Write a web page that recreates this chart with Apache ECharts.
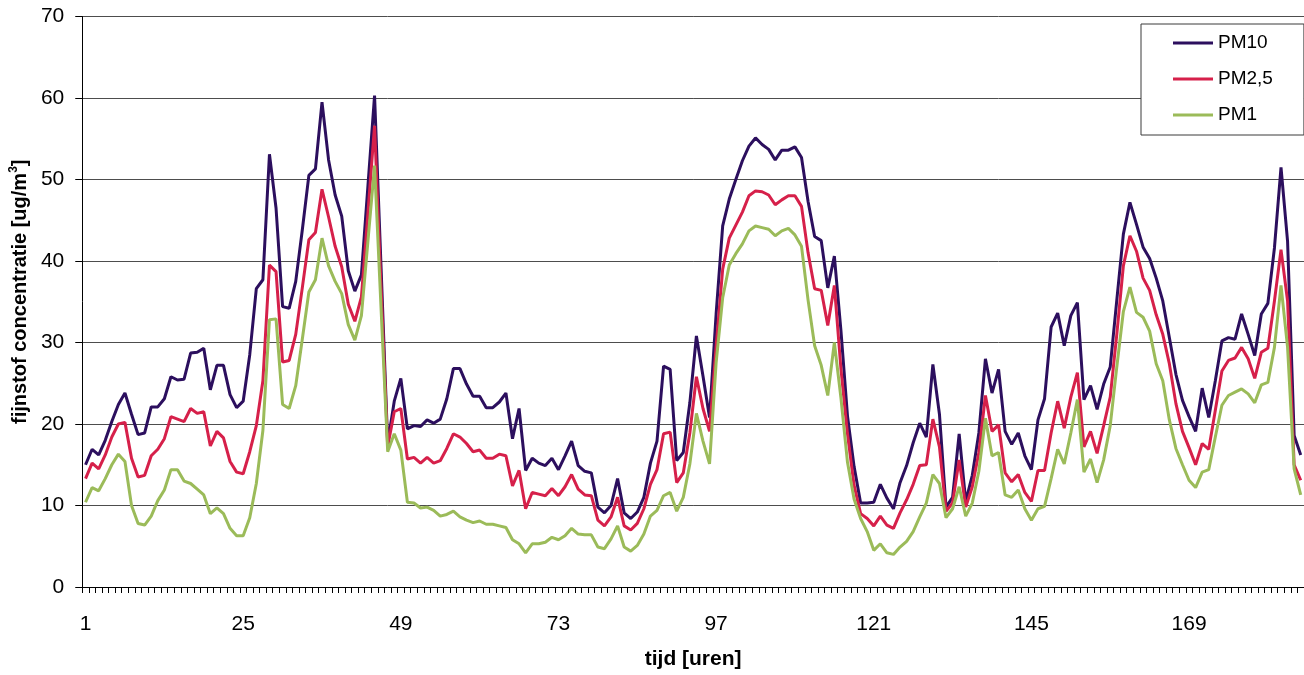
<!DOCTYPE html>
<html>
<head>
<meta charset="utf-8">
<script src="https://cdn.jsdelivr.net/npm/echarts@6/dist/echarts.min.js"></script>
<style>
  html, body { margin: 0; padding: 0; background: #fff; }
  #chart { width: 1304px; height: 675px; }
</style>
</head>
<body>
<div id="chart"></div>
<script>
// Hourly particulate matter concentrations (ug/m3), hour 1 .. 186
const hours = Array.from({ length: 186 }, (_, k) => String(k + 1));

const pm10 = [
  15.0, 16.9, 16.2, 18.0, 20.3, 22.4, 23.8, 21.2, 18.7, 18.9,
  22.1, 22.1, 23.1, 25.8, 25.4, 25.5, 28.7, 28.8, 29.3, 24.2,
  27.2, 27.2, 23.6, 22.0, 22.8, 28.5, 36.6, 37.7, 53.1, 46.5,
  34.4, 34.2, 37.5, 43.8, 50.5, 51.3, 59.5, 52.4, 48.1, 45.5,
  38.8, 36.3, 38.3, 49.3, 60.3, 39.0, 17.6, 22.8, 25.6, 19.4,
  19.8, 19.7, 20.5, 20.1, 20.6, 23.1, 26.8, 26.8, 24.9, 23.4,
  23.4, 22.0, 22.0, 22.7, 23.8, 18.2, 21.9, 14.3, 15.8, 15.2,
  14.9, 15.8, 14.4, 16.1, 17.9, 14.9, 14.2, 14.0, 9.8, 9.1,
  10.0, 13.3, 9.1, 8.4, 9.2, 11.0, 15.2, 17.9, 27.1, 26.7,
  15.5, 16.5, 22.6, 30.8, 25.9, 20.8, 33.5, 44.3, 47.6, 50.0,
  52.3, 54.1, 55.1, 54.3, 53.7, 52.4, 53.6, 53.6, 54.0, 52.7,
  47.3, 43.0, 42.5, 36.7, 40.6, 31.5, 21.0, 14.8, 10.3, 10.3,
  10.4, 12.6, 10.9, 9.6, 12.8, 14.9, 17.7, 20.1, 18.4, 27.3,
  21.2, 9.8, 11.0, 18.8, 10.5, 13.7, 18.9, 28.0, 23.8, 26.7,
  19.1, 17.5, 18.9, 16.1, 14.4, 20.5, 23.1, 31.9, 33.6, 29.6,
  33.3, 34.9, 23.0, 24.7, 21.8, 24.9, 27.0, 35.2, 43.3, 47.2,
  44.5, 41.7, 40.3, 37.9, 35.1, 30.6, 26.1, 22.9, 20.9, 19.1,
  24.4, 20.8, 25.3, 30.2, 30.6, 30.4, 33.5, 31.0, 28.4, 33.5,
  34.8, 41.6, 51.5, 42.4, 18.6, 16.2
];

const pm25 = [
  13.3, 15.2, 14.5, 16.2, 18.4, 20.0, 20.2, 15.8, 13.5, 13.7,
  16.1, 16.9, 18.2, 20.9, 20.6, 20.3, 21.9, 21.3, 21.5, 17.3,
  19.1, 18.3, 15.4, 14.1, 13.9, 16.6, 19.8, 25.3, 39.5, 38.7,
  27.6, 27.8, 31.0, 36.7, 42.6, 43.5, 48.8, 45.4, 41.8, 39.3,
  34.7, 32.6, 35.6, 46.0, 56.6, 36.5, 17.2, 21.5, 21.9, 15.7,
  15.9, 15.2, 15.9, 15.2, 15.5, 17.0, 18.8, 18.4, 17.6, 16.6,
  16.8, 15.8, 15.8, 16.3, 16.1, 12.4, 14.3, 9.6, 11.6, 11.4,
  11.2, 12.1, 11.2, 12.3, 13.8, 12.0, 11.3, 11.2, 8.2, 7.5,
  8.6, 11.0, 7.5, 7.0, 7.8, 9.6, 12.6, 14.4, 18.8, 19.0,
  12.8, 14.0, 18.9, 25.8, 21.9, 19.1, 29.5, 39.0, 42.8, 44.4,
  46.0, 48.0, 48.6, 48.5, 48.1, 46.9, 47.5, 48.0, 48.0, 46.7,
  41.0, 36.6, 36.4, 32.1, 37.0, 26.8, 18.8, 12.5, 9.0, 8.4,
  7.5, 8.7, 7.6, 7.2, 9.1, 10.7, 12.6, 14.9, 15.0, 20.6,
  17.2, 9.3, 10.3, 15.6, 9.8, 12.3, 16.5, 23.5, 19.1, 19.9,
  14.0, 12.9, 13.8, 11.6, 10.5, 14.3, 14.3, 18.9, 22.8, 19.5,
  23.3, 26.3, 17.2, 19.1, 16.4, 19.8, 23.3, 31.0, 39.4, 43.1,
  41.2, 37.9, 36.4, 33.4, 31.0, 27.4, 22.5, 19.1, 17.1, 15.0,
  17.6, 16.9, 21.7, 26.5, 27.8, 28.1, 29.4, 28.0, 25.6, 28.8,
  29.3, 35.1, 41.4, 35.1, 15.0, 13.1
];

const pm1 = [
  10.4, 12.2, 11.8, 13.3, 15.0, 16.3, 15.4, 10.0, 7.8, 7.6,
  8.7, 10.6, 11.9, 14.4, 14.4, 13.0, 12.7, 12.0, 11.3, 9.0,
  9.7, 9.0, 7.2, 6.3, 6.3, 8.5, 12.7, 19.2, 32.8, 32.9,
  22.4, 21.9, 24.7, 30.4, 36.2, 37.7, 42.8, 39.4, 37.5, 36.0,
  32.2, 30.3, 33.3, 42.5, 51.7, 34.0, 16.6, 18.8, 16.8, 10.4,
  10.3, 9.7, 9.8, 9.4, 8.7, 8.9, 9.3, 8.6, 8.2, 7.9,
  8.1, 7.7, 7.7, 7.5, 7.3, 5.8, 5.3, 4.2, 5.3, 5.3,
  5.5, 6.1, 5.8, 6.3, 7.2, 6.5, 6.4, 6.4, 4.9, 4.7,
  5.9, 7.5, 4.9, 4.4, 5.1, 6.5, 8.7, 9.4, 11.2, 11.6,
  9.3, 11.0, 15.1, 21.3, 17.9, 15.1, 27.5, 35.5, 39.5, 40.9,
  42.1, 43.7, 44.3, 44.1, 43.9, 43.1, 43.7, 44.0, 43.2, 41.8,
  35.2, 29.6, 27.2, 23.5, 30.0, 23.2, 15.3, 10.8, 8.4, 6.8,
  4.5, 5.3, 4.2, 4.0, 4.9, 5.6, 6.8, 8.6, 10.3, 13.8,
  12.7, 8.5, 9.6, 12.3, 8.7, 10.3, 14.2, 20.7, 16.1, 16.5,
  11.3, 11.0, 11.9, 9.6, 8.2, 9.6, 9.9, 13.3, 16.9, 15.1,
  18.9, 23.0, 14.1, 15.7, 12.8, 15.6, 19.8, 27.0, 33.8, 36.8,
  33.7, 33.1, 31.4, 27.4, 25.3, 20.5, 17.0, 15.0, 13.1, 12.2,
  14.1, 14.4, 18.4, 22.3, 23.5, 23.9, 24.3, 23.7, 22.6, 24.8,
  25.1, 29.4, 37.0, 29.4, 14.5, 11.3
];

const seriesNames = ['PM10', 'PM2,5', 'PM1'];
const seriesColors = ['#2C0F5E', '#D6204A', '#9BBB59'];
const seriesData = [pm10, pm25, pm1];

const FONT = '"Liberation Sans", Arial, sans-serif';

const chart = echarts.init(document.getElementById('chart'), null, { renderer: 'canvas' });

chart.setOption({
  animation: false,
  backgroundColor: '#ffffff',
  textStyle: { fontFamily: FONT, color: '#000' },
  grid: { left: 80, right: -4, top: 16.5, bottom: 84, containLabel: false },
  legend: {
    orient: 'vertical',
    left: 1141,
    top: 24,
    padding: [9, 31, 10, 32],
    itemWidth: 40,
    itemHeight: 3,
    itemGap: 16,
    itemTextGap: 5,
    icon: 'rect',
    borderColor: '#3a3a3a',
    borderWidth: 1,
    backgroundColor: '#ffffff',
    textStyle: { fontFamily: FONT, fontSize: 19, color: '#000', lineHeight: 20 },
    data: seriesNames
  },
  xAxis: {
    type: 'category',
    data: hours,
    boundaryGap: true,
    name: 'tijd [uren]',
    nameLocation: 'middle',
    nameGap: 62,
    nameTextStyle: { fontFamily: FONT, fontSize: 21, fontWeight: 'bold', color: '#000' },
    axisLine: { show: true, lineStyle: { color: '#000', width: 1 } },
    axisTick: { show: true, interval: 0, length: 6, alignWithLabel: false, lineStyle: { color: '#000' } },
    axisLabel: { interval: 23, fontFamily: FONT, fontSize: 21, color: '#000', margin: 27 },
    splitLine: { show: false }
  },
  yAxis: {
    type: 'value',
    min: 0,
    max: 70,
    interval: 10,
    name: '{t|fijnstof concentratie [ug/m}{s|3}{t|]}',
    nameLocation: 'middle',
    nameGap: 42,
    nameRotate: 90,
    nameTextStyle: {
      padding: [0, 0, 0, 20],
      rich: {
        t: { fontFamily: FONT, fontSize: 20, fontWeight: 'bold', color: '#000', lineHeight: 22, verticalAlign: 'bottom' },
        s: { fontFamily: FONT, fontSize: 12, fontWeight: 'bold', color: '#000', lineHeight: 22, verticalAlign: 'top' }
      }
    },
    axisLine: { show: true, lineStyle: { color: '#000', width: 1 } },
    axisTick: { show: true, length: 7, lineStyle: { color: '#000' } },
    axisLabel: { fontFamily: FONT, fontSize: 21, color: '#000', margin: 18 },
    splitLine: { show: true, lineStyle: { color: '#4d4d4d', width: 1 } }
  },
  series: seriesNames.map((name, k) => ({
    name,
    type: 'line',
    data: seriesData[k],
    showSymbol: false,
    symbol: 'none',
    smooth: false,
    color: seriesColors[k],
    lineStyle: { color: seriesColors[k], width: 3 },
    emphasis: { disabled: true }
  }))
});
</script>
</body>
</html>
